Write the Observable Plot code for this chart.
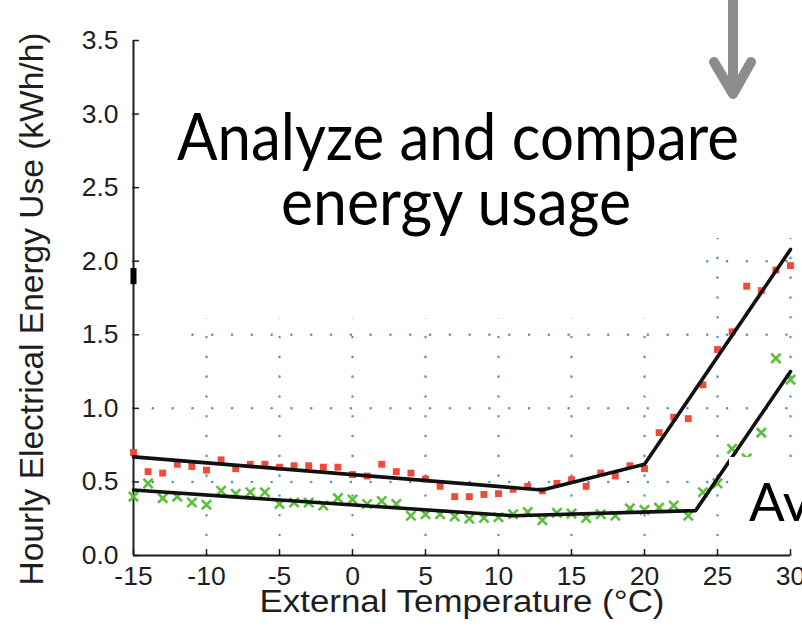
<!DOCTYPE html>
<html>
<head>
<meta charset="utf-8">
<script src="https://cdn.jsdelivr.net/npm/d3@7"></script>
<script src="https://cdn.jsdelivr.net/npm/@observablehq/plot@0.6"></script>
<style>
  body { margin: 0; background: #fff; }
  #wrap { position: relative; width: 802px; height: 626px; overflow: hidden; background: #fff; }
  #wrap > svg { position: absolute; left: 0; top: 0; }
</style>
</head>
<body>
<div id="wrap"></div>
<script>
// ---- data ----
const temperature = [-15,-14,-13,-12,-11,-10,-9,-8,-7,-6,-5,-4,-3,-2,-1,0,1,2,3,4,5,6,7,8,9,10,11,12,13,14,15,16,17,18,19,20,21,22,23,24,25,26,27,28,29,30];
const redSeries = [0.70,0.57,0.56,0.62,0.605,0.58,0.65,0.59,0.62,0.62,0.60,0.61,0.61,0.60,0.60,0.55,0.54,0.62,0.57,0.56,0.52,0.47,0.40,0.40,0.415,0.42,0.45,0.47,0.44,0.49,0.515,0.47,0.56,0.54,0.61,0.59,0.835,0.94,0.93,1.16,1.40,1.52,1.83,1.80,1.94,1.97];
const greenSeries = [0.40,0.49,0.39,0.40,0.36,0.345,0.44,0.42,0.43,0.43,0.35,0.36,0.36,0.34,0.39,0.38,0.35,0.37,0.35,0.27,0.28,0.28,0.265,0.25,0.255,0.26,0.28,0.295,0.24,0.29,0.285,0.255,0.28,0.27,0.32,0.31,0.325,0.34,0.27,0.43,0.49,0.725,0.66,0.835,1.34,1.195];
const redFitT = [-15, 13, 20, 30];
const redFitV = [0.67, 0.445, 0.62, 2.08];
const greenFitT = [-15, 11, 23.5, 30];
const greenFitV = [0.445, 0.27, 0.305, 1.25];
const xTicks = [-15,-10,-5,0,5,10,15,20,25,30];
const yTicks = [0,0.5,1,1.5,2,2.5,3,3.5];
const xGridLines = [-10,-5,0,5,10,15,20,25,30];
const yGridLines = [0.5,1,1.5,2,2.5,3];
const axisBlipT = [-15];
const axisBlipLo = [1.84];
const axisBlipHi = [1.95];
const xLabel = "External Temperature (°C)";
const yLabel = "Hourly Electrical Energy Use (kWh/h)";
const titleLines = ["Analyze and compare", "energy usage"];
const sideText = "Av";

// ---- tables built from arrays ----
const redPts = temperature.map((t, i) => ({t, v: redSeries[i]}));
const greenPts = temperature.map((t, i) => ({t, v: greenSeries[i]}));
const redFit = redFitT.map((t, i) => ({t, v: redFitV[i]}));
const greenFit = greenFitT.map((t, i) => ({t, v: greenFitV[i]}));
const blip = axisBlipT.map((t, i) => ({t, lo: axisBlipLo[i], hi: axisBlipHi[i]}));

const FONT = "'Liberation Sans', Arial, Helvetica, sans-serif";
const INK = "#1e1e1e";
const GRID = "#3f8bbb";

const chart = Plot.plot({
  width: 802,
  height: 626,
  marginLeft: 133,
  marginRight: 12,
  marginTop: 40,
  marginBottom: 71,
  style: {fontFamily: FONT, fontSize: "26px", color: INK, background: "#fff", overflow: "visible"},
  x: {domain: [-15, 30], label: null},
  y: {domain: [0, 3.5], label: null},
  marks: [
    Plot.gridX(xGridLines, {stroke: GRID, strokeOpacity: 0.9, strokeWidth: 2.5, strokeDasharray: "0.1 19.7", strokeLinecap: "round"}),
    Plot.gridY(yGridLines, {stroke: GRID, strokeOpacity: 0.9, strokeWidth: 2.5, strokeDasharray: "0.1 19.7", strokeLinecap: "round"}),
    Plot.axisY(yTicks, {tickSize: 0, tickPadding: 15, tickFormat: d3.format(".1f"), fontSize: 26.5, fill: INK, label: null}),
    Plot.axisY(yTicks, {tickSize: 6, dx: 6, tickFormat: () => "", stroke: INK, strokeWidth: 1.5, label: null}),
    Plot.axisX(xTicks, {tickSize: 0, tickPadding: 11, tickFormat: d => String(d), fontSize: 26.5, fill: INK, label: null}),
    Plot.axisX(xTicks, {tickSize: 6, dy: -6, tickFormat: () => "", stroke: INK, strokeWidth: 1.5, label: null}),
    Plot.ruleY([0], {stroke: INK, strokeWidth: 2}),
    Plot.ruleX([-15], {stroke: INK, strokeWidth: 2}),
    Plot.ruleX(blip, {x: "t", y1: "lo", y2: "hi", stroke: "#000", strokeWidth: 6}),
    Plot.dot(redPts, {x: "t", y: "v", symbol: "square", fill: "#ee4b3b", r: 3.9}),
    Plot.dot(greenPts, {x: "t", y: "v", symbol: "times", stroke: "#5cbf3c", strokeWidth: 2.6, r: 4.3}),
    Plot.line(redFit, {x: "t", y: "v", stroke: "#111", strokeWidth: 3.6}),
    Plot.line(greenFit, {x: "t", y: "v", stroke: "#111", strokeWidth: 3.6}),
    Plot.text([xLabel], {frameAnchor: "bottom", textAnchor: "middle", lineAnchor: "middle", dy: 47, fontSize: 31, fill: INK}),
    Plot.text([yLabel], {frameAnchor: "left", textAnchor: "middle", lineAnchor: "middle", rotate: -90, dx: -101, dy: 11, fontSize: 33.5, fill: INK})
  ]
});

const wrap = document.getElementById("wrap");
wrap.appendChild(chart);

// stretch x label like the reference
d3.select(chart).selectAll("text").filter(function() { return this.textContent === xLabel; })
  .attr("textLength", 405).attr("lengthAdjust", "spacingAndGlyphs");

// ---- slide overlay (white boxes, title text, arrow) ----
const ov = d3.select(wrap).append("svg").attr("width", 802).attr("height", 626);
ov.append("rect").attr("x", 141).attr("y", 0).attr("width", 661).attr("height", 238).attr("fill", "#fff");
ov.append("rect").attr("x", 141).attr("y", 238).attr("width", 559).attr("height", 80).attr("fill", "#fff");
ov.append("rect").attr("x", 141).attr("y", 318).attr("width", 48).attr("height", 26).attr("fill", "#fff");
ov.append("rect").attr("x", 729).attr("y", 457).attr("width", 73).attr("height", 91).attr("fill", "#fff");

const TFONT = "Lato";
const ctx = document.createElement("canvas").getContext("2d");
ctx.font = "100px " + TFONT;
const w1 = ctx.measureText(titleLines[0]).width || 480;
const fsTitle = 100 * 562 / w1 * 1.1;

ov.append("text").attr("x", 458).attr("y", 160).attr("text-anchor", "middle")
  .attr("font-family", TFONT).attr("font-size", fsTitle).attr("fill", "#000")
  .attr("textLength", 562).attr("lengthAdjust", "spacingAndGlyphs").text(titleLines[0]);
ov.append("text").attr("x", 456).attr("y", 225).attr("text-anchor", "middle")
  .attr("font-family", TFONT).attr("font-size", fsTitle).attr("fill", "#000")
  .attr("textLength", 350).attr("lengthAdjust", "spacingAndGlyphs").text(titleLines[1]);
ov.append("text").attr("x", 749).attr("y", 521)
  .attr("font-family", TFONT).attr("font-size", fsTitle * 0.8).attr("fill", "#000").text(sideText);

ov.append("path").attr("d", "M733,-5 L733,92 M714,62 L733,94 L751,62")
  .attr("fill", "none").attr("stroke", "#8c8c8c").attr("stroke-width", 10)
  .attr("stroke-linecap", "round").attr("stroke-linejoin", "round");
</script>
</body>
</html>
